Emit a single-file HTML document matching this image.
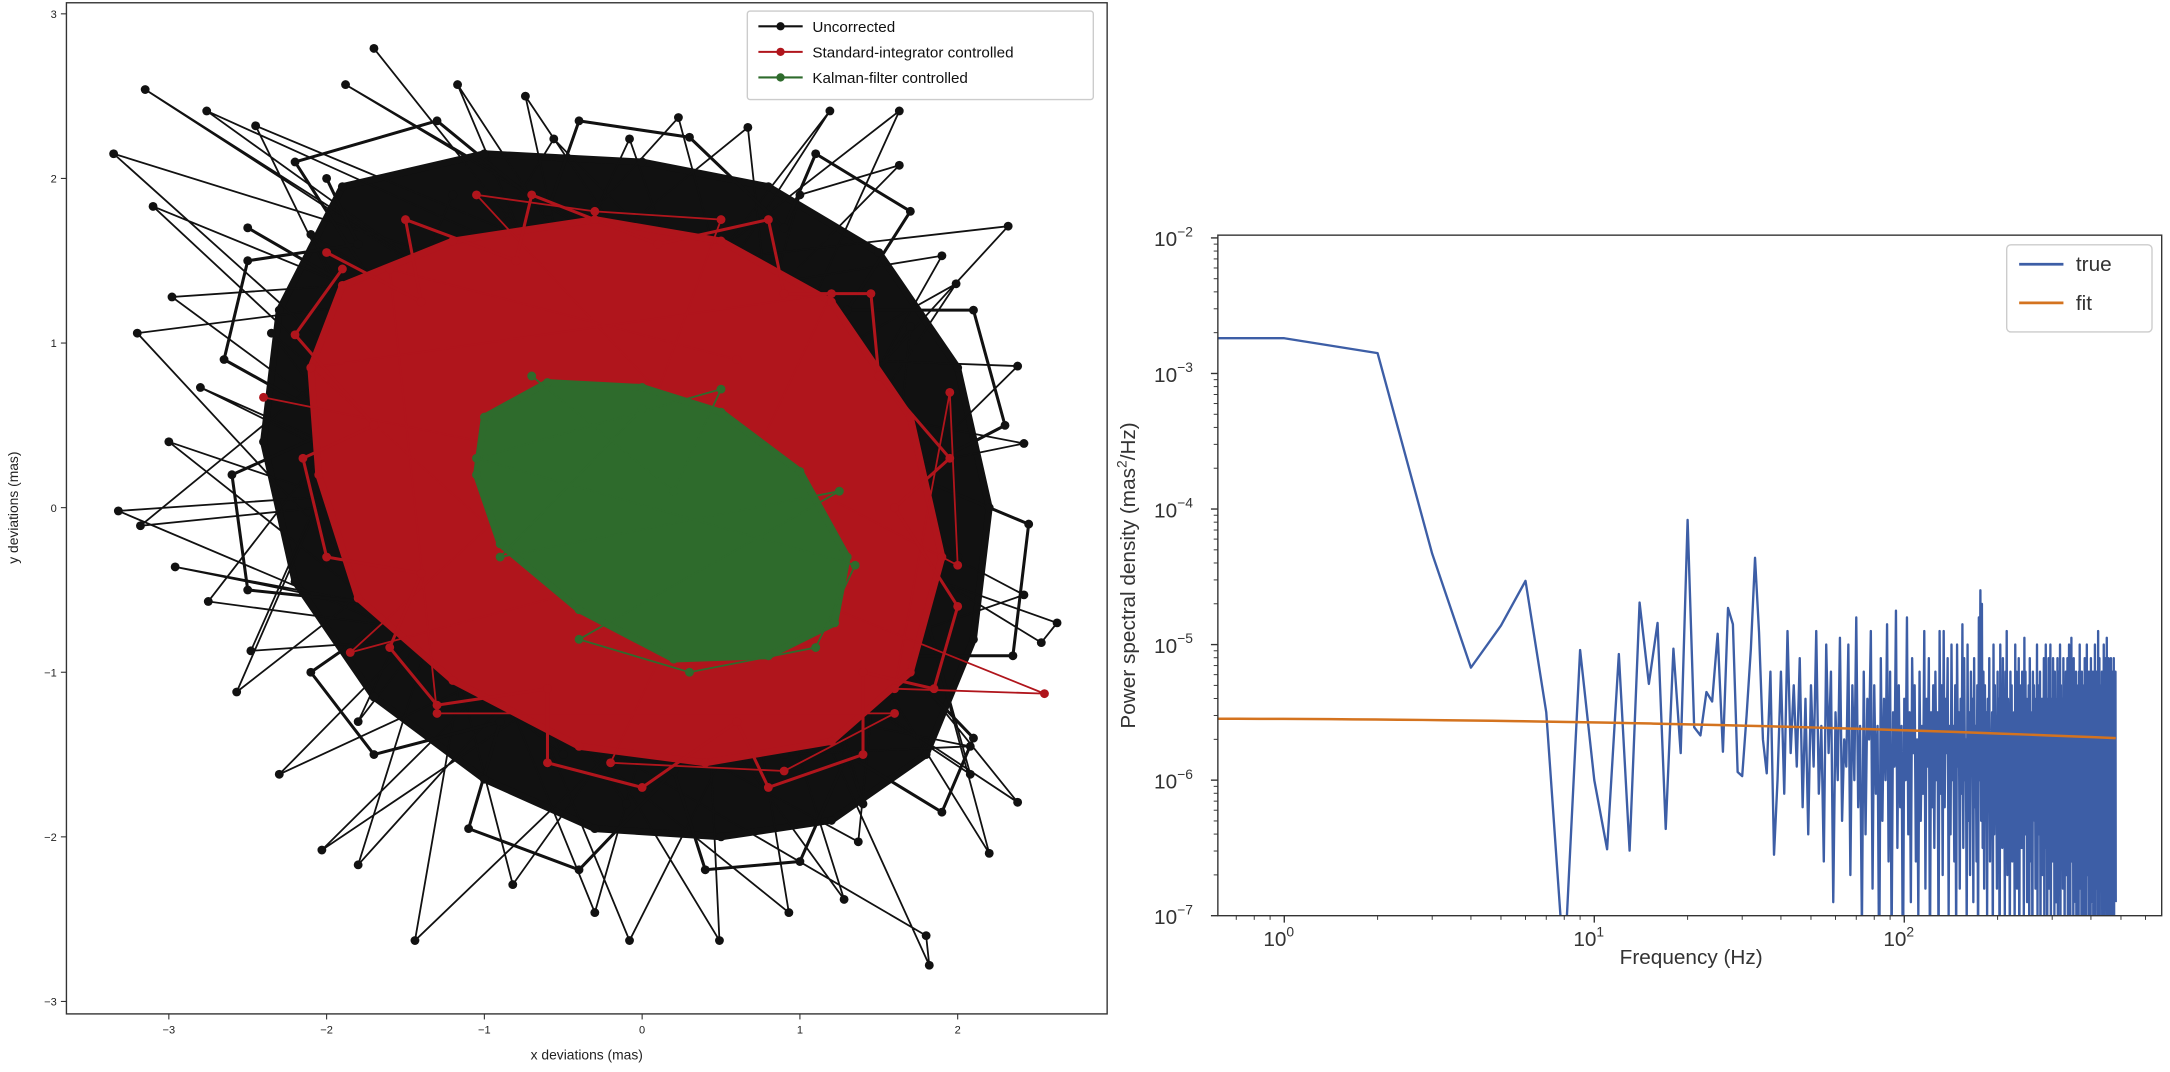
<!DOCTYPE html>
<html><head><meta charset="utf-8"><style>
html,body{margin:0;padding:0;background:#fff;}
svg{display:block;font-family:"Liberation Sans","DejaVu Sans",sans-serif;}
</style></head><body>
<svg id="fig" width="2170" height="1072" viewBox="0 0 1568 775" preserveAspectRatio="none" xmlns="http://www.w3.org/2000/svg">
<defs>
<clipPath id="clipL"><rect x="48" y="2" width="752" height="731"/></clipPath>
<clipPath id="clipR"><rect x="880" y="170" width="682" height="492"/></clipPath>
</defs>
<g id="left"></g>
<g id="right"></g>
</svg>
<script>
// ---------- Left chart data (data coords, mas) ----------
const blackCore = [[-1.9,1.95],[-1.0,2.15],[0,2.1],[0.8,1.95],[1.5,1.55],[2.0,0.85],[2.2,0],[2.1,-0.8],[1.8,-1.5],[1.2,-1.9],[0.5,-2.0],[-0.3,-1.95],[-1.0,-1.65],[-1.7,-1.15],[-2.2,-0.45],[-2.4,0.4],[-2.3,1.2]];
const blackWalk = [[-1.7,2.79],[0.2,0.5],[-3.15,2.54],[-1.0,1.2],[-2.76,2.41],[0.5,1.0],[-3.35,2.15],[-1.2,0.3],[1.63,2.41],[0.3,-0.4],[2.32,1.71],[-0.5,1.4],[0.67,2.31],[1.0,-0.6],[-1.17,2.57],[-0.3,0.6],[-0.74,2.5],[0.8,0.3],[-3.1,1.83],[-0.6,-0.4],[-2.98,1.28],[0.4,1.5],[-3.2,1.06],[-1.4,-0.8],[-3.32,-0.02],[0.0,0.2],[-3.18,-0.11],[-1.0,1.6],[-2.75,-0.57],[0.6,-1.0],[-2.96,-0.36],[-0.2,-0.9],[-2.03,-2.08],[0.9,0.7],[-1.8,-2.17],[-0.8,0.9],[-1.44,-2.63],[1.2,-0.2],[-0.08,-2.63],[-1.3,0.2],[0.49,-2.63],[0.3,1.2],[0.93,-2.46],[-0.7,-1.2],[1.8,-2.6],[1.82,-2.78],[0.5,0.0],[1.28,-2.38],[-0.9,0.5],[2.63,-0.7],[2.53,-0.82],[-0.4,0.9],[2.42,-0.53],[0.1,-1.3],[2.38,0.86],[-1.5,1.0],[1.9,1.53],[0.7,-0.5],[1.99,1.36],[-1.1,-0.3],[2.42,0.39],[0.2,0.8],[2.38,-1.79],[-0.6,0.1],[2.08,-1.62],[1.5,0.4],[2.2,-2.1],[-0.2,1.6],[-1.88,2.57],[1.1,0.9],[-2.45,2.32],[-0.5,-1.5],[-3.0,0.4],[1.3,-1.0],[-2.8,0.73],[0.0,-0.6],[-2.3,-1.62],[0.8,1.4],[-2.57,-1.12],[-1.2,1.9],[-2.48,-0.87],[1.6,-0.6],[-2.1,1.66],[-0.1,-1.8],[-2.35,1.06],[0.9,-1.5],[2.08,-1.45],[-0.8,-0.9],[1.37,-2.03],[1.7,1.1],[-0.82,-2.29],[-1.6,0.6],[-0.3,-2.46],[1.0,1.9],[1.63,2.08],[-0.3,0.2],[1.19,2.41],[-1.8,-1.3],[-0.08,2.24],[1.4,-1.8],[0.23,2.37],[-2.0,0.0],[-0.56,2.24],[2.0,-0.3]];
const blackEdge = [[-2.5,1.7],[-1.6,1.2],[-2.2,2.1],[-1.3,2.35],[-0.6,1.8],[-0.4,2.35],[0.3,2.25],[0.9,1.7],[1.1,2.15],[1.7,1.8],[1.3,1.2],[2.1,1.2],[2.3,0.5],[1.7,0.2],[2.45,-0.1],[2.35,-0.9],[1.6,-0.9],[2.1,-1.4],[1.9,-1.85],[1.3,-1.5],[1.0,-2.15],[0.4,-2.2],[0.2,-1.6],[-0.4,-2.2],[-1.1,-1.95],[-0.9,-1.3],[-1.7,-1.5],[-2.1,-1.0],[-1.5,-0.6],[-2.5,-0.5],[-2.6,0.2],[-1.9,0.5],[-2.65,0.9],[-2.5,1.5],[-1.8,1.6],[-2.0,2.0]];
const redCore = [[-1.9,1.35],[-1.2,1.62],[-0.3,1.75],[0.5,1.62],[1.2,1.25],[1.7,0.55],[1.9,-0.3],[1.7,-1.0],[1.2,-1.42],[0.4,-1.55],[-0.4,-1.45],[-1.2,-1.05],[-1.8,-0.55],[-2.05,0.2],[-2.1,0.85]];
const redWalk = [[-2.4,0.67],[-0.5,0.3],[-1.85,-0.88],[0.4,-0.3],[2.55,-1.13],[1.6,-1.1],[1.95,0.7],[2.0,-0.35],[0.3,0.5],[-1.05,1.9],[-0.3,1.8],[0.5,1.75],[-0.4,-0.6],[-2.1,0.85],[1.2,1.3],[-0.2,-1.55],[0.9,-1.6],[1.6,-1.25],[-1.3,-1.25],[-1.6,1.45],[0.6,0.9]];
const redEdge = [[-2.0,1.55],[-1.4,1.25],[-1.5,1.75],[-0.8,1.5],[-0.7,1.9],[0.1,1.6],[0.8,1.75],[0.9,1.3],[1.45,1.3],[1.5,0.8],[1.95,0.3],[1.6,0.0],[2.0,-0.6],[1.85,-1.1],[1.4,-1.0],[1.4,-1.5],[0.8,-1.7],[0.6,-1.3],[0.0,-1.7],[-0.6,-1.55],[-0.6,-1.1],[-1.3,-1.2],[-1.6,-0.85],[-1.4,-0.4],[-2.0,-0.3],[-2.15,0.3],[-1.7,0.5],[-2.2,1.05],[-1.9,1.45]];
const greenCore = [[-1.0,0.55],[-0.6,0.76],[0,0.73],[0.5,0.58],[1.0,0.22],[1.3,-0.3],[1.22,-0.7],[0.8,-0.9],[0.2,-0.92],[-0.4,-0.62],[-0.9,-0.22],[-1.05,0.2]];
const greenWalk = [[-0.7,0.8],[0.2,0.1],[0.5,0.72],[-1.05,0.3],[1.35,-0.35],[1.1,-0.85],[0.3,-1.0],[-0.4,-0.8],[1.25,0.1],[-0.9,-0.3],[0.0,0.6]];
const xTicksL = [-3,-2,-1,0,1,2];
const yTicksL = [-3,-2,-1,0,1,2,3];
const legendL = ["Uncorrected","Standard-integrator controlled","Kalman-filter controlled"];

// ---------- Right chart data ----------
const psdFreq0 = [0.5];
const psdLog0 = [-2.74];
const psdLog = [-2.74,-2.85,-4.33,-5.17,-4.86,-4.53,-5.5,-7.4,-5.04,-6.0,-6.51,-5.07,-6.52,-4.69,-5.29,-4.84,-6.36,-5.03,-5.8,-4.08,-5.61,-5.67,-5.35,-5.42,-4.92,-5.79,-4.73,-4.85,-5.94,-5.97,-5.52,-5.03,-4.36,-4.91,-5.7,-5.95,-5.2,-6.55,-6.0,-5.2,-6.1,-4.9,-5.8,-5.3,-5.9,
-5.1,-6.2,-5.4,-6.4,-5.3,-5.9,-4.9,-6.1,-5.6,-6.6,-5.0,-5.8,-5.2,-6.9,-5.5,-6.0,-4.95,-6.3,-5.7,-5.9,
-5.0,-6.7,-5.3,-6.0,-4.8,-6.2,-5.6,-7.1,-5.2,-6.4,-5.4,-5.7,-4.9,-6.8,-5.3,-6.1,-5.6,-7.5,-5.1,-6.3,
-5.4,-6.0,-4.85,-6.6,-5.2,-7.2,-5.5,-5.9,-4.75,-6.5,-5.3,-6.2,-5.6,-7.6,-5.4,-6.0,-4.8,-6.4,-5.5,-6.9,
-5.1,-5.8,-5.3,-6.6,-5.7,-7.0,-5.2,-6.3,-5.6,-6.1,-4.9,-6.8,-5.4,-5.9,-5.1,-7.4,-5.5,-6.2,-5.3,-6.5,
-5.2,-6.0,-5.5,-7.3,-4.9,-6.1,-5.3,-6.7,-4.9,-6.2,-5.4,-5.8,-5.1,-7.0,-5.6,-6.4,-5.0,-6.0,-5.6,-6.6,
-5.3,-7.2,-5.0,-5.9,-5.5,-6.8,-5.4,-6.1,-4.85,-6.5,-5.1,-6.0,-5.7,-7.1,-5.0,-6.3,-5.5,-6.7,-5.2,-5.9,
-5.4,-6.9,-5.1,-6.2,-5.6,-6.6,-5.3,-7.4,-4.8,-6.0,-4.6,-6.3,-4.7,-6.5,-5.2,-6.8,-5.3,-6.1,-5.5,-7.0,
-5.4,-6.2,-5.1,-6.6,-5.7,-5.9,-5.5,-7.2,-5.0,-6.4,-5.3,-6.0,-5.8,-6.8,-5.2,-6.3,-5.4,-7.6,-5.0,-6.1,
-5.6,-6.5,-5.1,-6.0,-5.5,-7.0,-5.2,-6.2,-4.9,-6.7,-5.4,-5.9,-5.7,-7.3,-5.2,-6.1,-5.3,-6.6,-5.6,-6.0,
-5.5,-7.1,-5.0,-6.3,-5.2,-6.8,-5.8,-5.9,-5.1,-7.5,-5.3,-6.2,-5.6,-6.5,-5.2,-6.0,-5.6,-7.0,-4.95,-6.4,
-5.2,-6.1,-5.4,-6.9,-5.7,-6.2,-5.3,-7.2,-5.1,-5.9,-5.5,-6.6,-5.8,-7.4,-5.2,-6.3,-5.3,-6.0,-5.6,-6.8,
-5.4,-6.2,-5.0,-7.0,-5.3,-6.4,-5.6,-5.9,-5.2,-7.3,-5.5,-6.1,-5.4,-6.7,-5.9,-6.0,-5.1,-7.1,-5.3,-6.3,
-5.0,-6.5,-5.5,-7.6,-5.4,-6.1,-5.1,-6.8,-5.7,-5.9,-5.0,-7.2,-5.6,-6.2,-5.4,-6.6,-5.1,-6.0,-5.3,-7.0,
-5.2,-6.3,-5.6,-6.9,-5.4,-6.1,-5.1,-7.4,-5.8,-6.0,-5.2,-6.5,-5.0,-7.1,-5.3,-6.2,-5.7,-5.9,-5.4,-6.8,
-5.1,-6.4,-5.3,-7.3,-5.6,-6.0,-5.2,-6.7,-5.4,-6.1,-5.1,-7.0,-5.8,-6.3,-5.0,-5.9,-5.2,-7.5,-5.4,-6.2,
-4.95,-6.6,-5.2,-6.0,-5.5,-7.2,-5.1,-6.4,-5.4,-6.1,-5.7,-6.9,-5.2,-7.1,-5.3,-6.0,-5.6,-6.5,-5.4,-7.3,
-5.2,-6.1,-5.0,-6.8,-5.3,-6.2,-5.7,-7.4,-5.2,-6.0,-5.4,-6.6,-5.9,-7.0,-5.3,-6.3,-5.1,-5.9,-5.5,-7.6,
-5.4,-6.2,-5.0,-6.7,-5.3,-6.1,-5.6,-7.1,-5.2,-6.4,-5.8,-6.0,-5.3,-7.3,-5.1,-6.5,-5.4,-6.2,-5.6,-6.9,
-5.2,-7.0,-5.3,-6.1,-5.7,-6.6,-5.0,-7.5,-5.4,-6.3,-5.2,-6.0,-5.6,-6.8,-5.3,-7.2,-4.9,-6.2,-5.2,-6.5,
-5.1,-7.4,-5.3,-6.0,-5.6,-6.7,-5.4,-6.1,-5.2,-7.1,-5.8,-6.3,-5.3,-6.6,-5.0,-7.3,-5.5,-6.0,-5.4,-6.4,
-5.1,-6.9,-5.3,-7.0,-4.95,-6.2,-5.6,-6.5,-5.4,-7.6,-5.1,-6.1,-5.3,-6.8,-5.7,-6.0,-5.2,-7.2,-5.1,-6.4,
-5.3,-6.6,-5.5,-7.1,-5.2,-6.2,-5.4,-6.0,-5.1,-7.4,-5.3,-6.3,-5.6,-6.7,-5.2,-6.9];
const fitStart = -5.547;
const fitEnd = -5.69;
const xTickExpR = [0,1,2];
const yTickExpR = [-2,-3,-4,-5,-6,-7];
const legendR = ["true","fit"];

const NS = "http://www.w3.org/2000/svg";
function mk(tag, attrs, parent){ const e=document.createElementNS(NS,tag); for(const k in attrs) e.setAttribute(k,attrs[k]); parent.appendChild(e); return e; }

// ---------- Left panel ----------
const L = document.getElementById('left');
const xL = v => 464 + v*114;
const yL = v => 367 - v*119;
const plotL = mk('g',{'clip-path':'url(#clipL)'},L);


function drawSeries(core, walk, edge, color, name){
  const g = mk('g',{},plotL);
  
  
  const poly = mk('polygon',{points:core.map(p=>xL(p[0])+','+yL(p[1])).join(' '),fill:color,stroke:color,'stroke-width':5,'stroke-linejoin':'round'},g);
  
  
  const pl = mk('polyline',{points:walk.map(p=>xL(p[0])+','+yL(p[1])).join(' '),fill:'none',stroke:color,'stroke-width':1.3},g);
  
  
  const pe = mk('polyline',{points:edge.map(p=>xL(p[0])+','+yL(p[1])).join(' '),fill:'none',stroke:color,'stroke-width':2.2,'stroke-linejoin':'round'},g);
  
  
  walk.concat(core, edge).forEach(p=>{
    const c = mk('circle',{cx:xL(p[0]),cy:yL(p[1]),r:3.2,fill:color},g);
    
    
  });
}
drawSeries(blackCore, blackWalk, blackEdge, '#111111', 'uncorrected-series');
drawSeries(redCore, redWalk, redEdge, '#b0151c', 'integrator-series');
drawSeries(greenCore, greenWalk, [], '#2e6b2c', 'kalman-series');
const frL = mk('rect',{x:48,y:2,width:752,height:731,fill:'none',stroke:'#333','stroke-width':1},L);


xTicksL.forEach(t=>{
  const tl = mk('line',{x1:xL(t),x2:xL(t),y1:733,y2:737,stroke:'#333','stroke-width':0.8},L);
  
  
  const tx = mk('text',{x:xL(t),y:747,'font-size':8,'text-anchor':'middle',fill:'#222'},L);
  tx.textContent = t<0 ? '\u2212'+(-t) : String(t);
  
  
});
yTicksL.forEach(t=>{
  const tl = mk('line',{x1:44,x2:48,y1:yL(t),y2:yL(t),stroke:'#333','stroke-width':0.8},L);
  
  
  const tx = mk('text',{x:41,y:yL(t)+3,'font-size':8,'text-anchor':'end',fill:'#222'},L);
  tx.textContent = t<0 ? '\u2212'+(-t) : String(t);
  
  
});
const xlab = mk('text',{x:424,y:766,'font-size':10,'text-anchor':'middle',fill:'#222'},L);
xlab.textContent='x deviations (mas)';


const ylab = mk('text',{x:0,y:0,'font-size':10,'text-anchor':'middle',fill:'#222',transform:'translate(13,367) rotate(-90)'},L);
ylab.textContent='y deviations (mas)';


const legL = mk('g',{},L);


mk('rect',{x:540,y:8,width:250,height:64,fill:'#fff','fill-opacity':0.9,stroke:'#ccc','stroke-width':1,rx:2},legL);
const legColorsL=['#111111','#b0151c','#2e6b2c'];
legendL.forEach((s,i)=>{
  const y = 19+i*18.5;
  const e = mk('g',{},legL);
  
  
  mk('line',{x1:548,x2:580,y1:y,y2:y,stroke:legColorsL[i],'stroke-width':1.5},e);
  mk('circle',{cx:564,cy:y,r:3,fill:legColorsL[i]},e);
  const t = mk('text',{x:587,y:y+4,'font-size':11,fill:'#111'},e);
  t.textContent=s;
});

// ---------- Right panel ----------
const R = document.getElementById('right');
const xR = f => 928 + 224*Math.log10(f);
const yR = lv => 172 + (-2 - lv)*98;
const plotR = mk('g',{'clip-path':'url(#clipR)'},R);


const pts = psdFreq0.map((f,i)=>[xR(f),yR(psdLog0[i])]).concat(psdLog.map((lv,i)=>[xR(i+1),yR(lv)]));
const trueLine = mk('polyline',{points:pts.map(p=>p[0].toFixed(2)+','+p[1].toFixed(2)).join(' '),fill:'none',stroke:'#3d5ea6','stroke-width':1.7,'stroke-linejoin':'round'},plotR);


const nF = psdLog.length;
const fitPts = [];
for(let k=0;k<=40;k++){
  const lf = Math.log10(0.5) + (Math.log10(nF)-Math.log10(0.5))*k/40;
  const fr = (lf - Math.log10(0.5))/(Math.log10(nF)-Math.log10(0.5));
  fitPts.push([xR(Math.pow(10,lf)), yR(fitStart + (fitEnd-fitStart)*Math.pow(fr,2))]);
}
const fitLine = mk('polyline',{points:fitPts.map(p=>p[0].toFixed(2)+','+p[1].toFixed(2)).join(' '),fill:'none',stroke:'#d4731f','stroke-width':1.8},plotR);


const frR = mk('rect',{x:880,y:170,width:682,height:492,fill:'none',stroke:'#333','stroke-width':1},R);


xTickExpR.forEach(e=>{
  const x = xR(Math.pow(10,e));
  const tl = mk('line',{x1:x,x2:x,y1:662,y2:667,stroke:'#333','stroke-width':1},R);
  
  
  const tx = mk('text',{x:x-4,y:684,'font-size':15,'text-anchor':'middle',fill:'#333'},R);
  
  
  tx.appendChild(document.createTextNode('10'));
  const sp = mk('tspan',{dy:-7,'font-size':10},tx); sp.textContent=String(e);
  for(let m=2;m<10;m++){
    const xm = xR(m*Math.pow(10,e));
    if(xm>880 && xm<1562){
      const ml = mk('line',{x1:xm,x2:xm,y1:662,y2:665,stroke:'#333','stroke-width':0.7},R);
      
      
    }
  }
});
[0.6,0.7,0.8,0.9].forEach(m=>{ const xm=xR(m); if(xm>880){ const ml=mk('line',{x1:xm,x2:xm,y1:662,y2:665,stroke:'#333','stroke-width':0.7},R);   }});
yTickExpR.forEach(e=>{
  const y = yR(e);
  const tl = mk('line',{x1:875,x2:880,y1:y,y2:y,stroke:'#333','stroke-width':1},R);
  
  
  const tx = mk('text',{x:862,y:y+6,'font-size':15,'text-anchor':'end',fill:'#333'},R);
  
  
  tx.appendChild(document.createTextNode('10'));
  const sp = mk('tspan',{dy:-7,'font-size':10},tx); sp.textContent='\u2212'+(-e);
  if(e>-7){
    for(let m=2;m<10;m++){
      const ym = yR(e-1+Math.log10(m));
      const ml = mk('line',{x1:877,x2:880,y1:ym,y2:ym,stroke:'#333','stroke-width':0.7},R);
      
      
    }
  }
});
const xlabR = mk('text',{x:1222,y:697,'font-size':15,'text-anchor':'middle',fill:'#333'},R);
xlabR.textContent='Frequency (Hz)';


const ylabR = mk('text',{x:0,y:0,'font-size':15,'text-anchor':'middle',fill:'#333',transform:'translate(820,416) rotate(-90)'},R);


ylabR.appendChild(document.createTextNode('Power spectral density (mas'));
const s2 = mk('tspan',{dy:-6,'font-size':10},ylabR); s2.textContent='2';
const s3 = mk('tspan',{dy:6},ylabR); s3.textContent='/Hz)';
const legR = mk('g',{},R);


mk('rect',{x:1450,y:177,width:105,height:63,fill:'#fff',stroke:'#ccc','stroke-width':1,rx:3},legR);
const legColorsR=['#3d5ea6','#d4731f'];
legendR.forEach((s,i)=>{
  const y = 191+i*28;
  const e = mk('g',{},legR);
  
  
  mk('line',{x1:1459,x2:1491,y1:y,y2:y,stroke:legColorsR[i],'stroke-width':2},e);
  const t = mk('text',{x:1500,y:y+5,'font-size':15,fill:'#333'},e);
  t.textContent=s;
});
</script>
</body></html>
